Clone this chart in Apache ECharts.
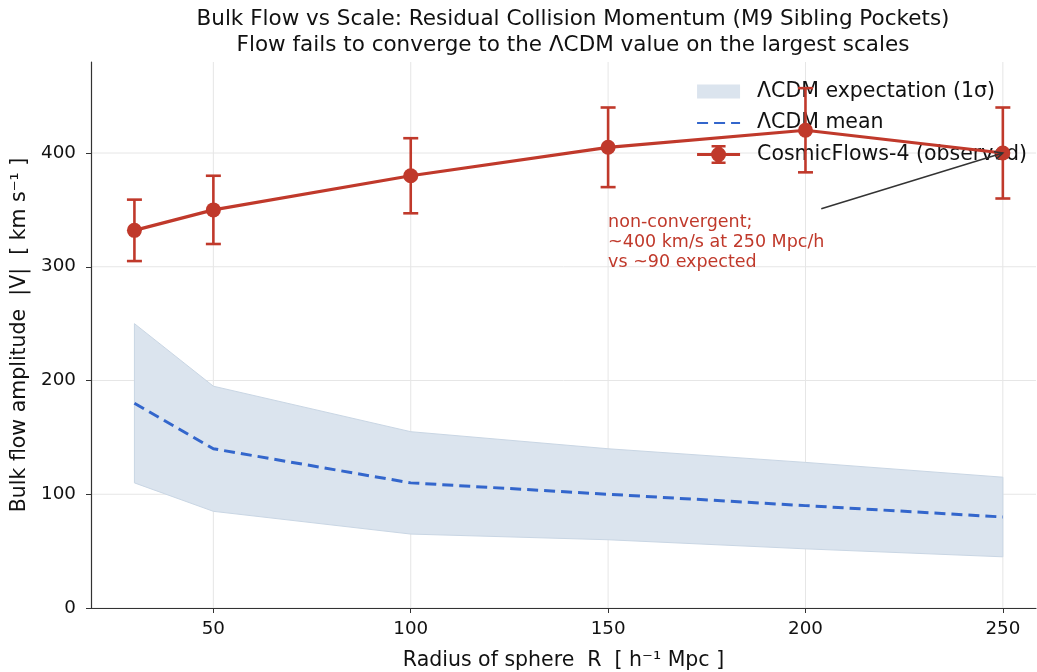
<!DOCTYPE html>
<html>
<head>
<meta charset="utf-8">
<script src="https://cdn.jsdelivr.net/npm/echarts@6/dist/echarts.min.js"></script>
<style>html,body{margin:0;padding:0;background:#fff}#c{width:1037px;height:672px}</style>
</head>
<body>
<div id="c"></div>
<script>
const radii = [30, 50, 100, 150, 200, 250];
const observed = [332, 350, 380, 405, 420, 400];
const observedErr = [27, 30, 33, 35, 37, 40];
const lcdmMean = [180, 140, 110, 100, 90, 80];
const lcdmLow = [110, 85, 65, 60, 52, 45];
const lcdmHigh = [250, 195, 155, 140, 128, 115];
const xTicks = [50, 100, 150, 200, 250];
const yTicks = [0, 100, 200, 300, 400];

const FONT = 'DejaVu Sans';
const RED = '#c0392b';
const BLUE = '#3366cc';

const BAND_ICON = 'path://M0,0 h0.01 v0.01 z M0,2.5 H43 V16.5 H0 Z M42.99,18.99 h0.01 v0.01 z';
const OBS_ICON = 'path://M0,8 H43 V11 H0 Z M20.2,0 H22.8 V19 H20.2 Z M14.5,0 H28.5 V2.5 H14.5 Z M14.5,16.5 H28.5 V19 H14.5 Z M14,9.5 A7.5,7.5 0 1,1 29,9.5 A7.5,7.5 0 1,1 14,9.5 Z';

const chart = echarts.init(document.getElementById('c'), null, {renderer: 'canvas'});

const option = {
  animation: false,
  backgroundColor: '#fff',
  textStyle: {fontFamily: FONT},
  title: {
    text: 'Bulk Flow vs Scale: Residual Collision Momentum (M9 Sibling Pockets)\nFlow fails to converge to the ΛCDM value on the largest scales',
    left: 568, top: 1, textAlign: 'center',
    textStyle: {fontFamily: FONT, fontSize: 21.5, fontWeight: 'normal', color: '#111', lineHeight: 26}
  },
  grid: {left: 91, top: 62, right: 1, bottom: 64, containLabel: false, outerBoundsMode: 'none'},
  legend: {
    orient: 'vertical', right: 5, top: 76, itemWidth: 43, itemHeight: 19, itemGap: 10.5,
    symbolKeepAspect: true,
    textStyle: {fontFamily: FONT, fontSize: 20.5, color: '#111', lineHeight: 20, padding: [0, 0, 0, 12]},
    data: [
      {name: 'ΛCDM expectation (1σ)', icon: BAND_ICON, itemStyle: {borderWidth: 0, borderColor: 'rgba(0,0,0,0)'}},
      {name: 'ΛCDM mean', itemStyle: {color: 'rgba(0,0,0,0)', borderWidth: 0, opacity: 0}},
      {name: 'CosmicFlows-4 (observed)', icon: OBS_ICON}
    ]
  },
  xAxis: {
    type: 'value', min: 19, max: 258.4, interval: 50,
    name: 'Radius of sphere  R  [ h⁻¹ Mpc ]', nameLocation: 'middle', nameGap: 42,
    nameTextStyle: {fontFamily: FONT, fontSize: 20.5, color: '#111'},
    axisLine: {show: true, onZero: false, lineStyle: {color: '#333', width: 1.2}},
    axisTick: {show: true, length: 5, lineStyle: {color: '#333'}, customValues: xTicks},
    axisLabel: {fontFamily: FONT, fontSize: 18.3, color: '#111', margin: 12, customValues: xTicks},
    splitLine: {show: false}
  },
  yAxis: {
    type: 'value', min: 0, max: 480, interval: 100,
    name: 'Bulk flow amplitude  |V|  [ km s⁻¹ ]', nameLocation: 'middle', nameGap: 58,
    nameTextStyle: {fontFamily: FONT, fontSize: 20.5, color: '#111'},
    axisLine: {show: true, lineStyle: {color: '#333', width: 1.2}},
    axisTick: {show: true, length: 5, lineStyle: {color: '#333'}, customValues: yTicks},
    axisLabel: {fontFamily: FONT, fontSize: 18.3, color: '#111', margin: 15, customValues: yTicks},
    splitLine: {show: false}
  },
  series: [
    {
      type: 'custom', name: 'grid', silent: true, z: 0,
      data: [0],
      renderItem: function (params, api) {
        const children = [];
        const y0 = api.coord([0, 0])[1], y1 = api.coord([0, 480])[1];
        const x0 = api.coord([19, 0])[0], x1 = api.coord([258.4, 0])[0];
        xTicks.forEach(function (t) {
          const x = api.coord([t, 0])[0];
          children.push({type: 'line', shape: {x1: x, y1: y0, x2: x, y2: y1}, style: {stroke: '#e6e6e6', lineWidth: 1}});
        });
        yTicks.forEach(function (t) {
          const y = api.coord([0, t])[1];
          children.push({type: 'line', shape: {x1: x0, y1: y, x2: x1, y2: y}, style: {stroke: '#e6e6e6', lineWidth: 1}});
        });
        return {type: 'group', children: children};
      }
    },
    {
      type: 'custom', name: 'ΛCDM expectation (1σ)', z: 1,
      itemStyle: {color: '#dbe4ee'},
      data: radii.map(function (r, i) { return [r, lcdmLow[i], lcdmHigh[i]]; }),
      encode: {x: 0, y: [1, 2]},
      renderItem: function (params, api) {
        if (params.dataIndex !== 0) return null;
        const pts = [];
        for (let i = 0; i < radii.length; i++) pts.push(api.coord([radii[i], lcdmHigh[i]]));
        for (let i = radii.length - 1; i >= 0; i--) pts.push(api.coord([radii[i], lcdmLow[i]]));
        return {type: 'polygon', shape: {points: pts}, style: {fill: '#dbe4ee', stroke: '#c9d6e4', lineWidth: 1}};
      }
    },
    {
      type: 'line', name: 'ΛCDM mean', z: 3,
      data: radii.map(function (r, i) { return [r, lcdmMean[i]]; }),
      symbol: 'none', color: BLUE,
      lineStyle: {color: BLUE, width: 3, type: [11, 6]}
    },
    {
      type: 'custom', name: 'errbars', z: 4,
      data: radii.map(function (r, i) { return [r, observed[i] - observedErr[i], observed[i] + observedErr[i]]; }),
      encode: {x: 0, y: [1, 2]},
      renderItem: function (params, api) {
        const x = api.value(0);
        const lo = api.coord([x, api.value(1)]);
        const hi = api.coord([x, api.value(2)]);
        const cap = 7.5;
        const st = {stroke: RED, lineWidth: 2.6};
        return {type: 'group', children: [
          {type: 'line', shape: {x1: lo[0], y1: lo[1], x2: hi[0], y2: hi[1]}, style: st},
          {type: 'line', shape: {x1: lo[0] - cap, y1: lo[1], x2: lo[0] + cap, y2: lo[1]}, style: st},
          {type: 'line', shape: {x1: hi[0] - cap, y1: hi[1], x2: hi[0] + cap, y2: hi[1]}, style: st}
        ]};
      }
    },
    {
      type: 'line', name: 'CosmicFlows-4 (observed)', z: 5,
      data: radii.map(function (r, i) { return [r, observed[i]]; }),
      symbol: 'circle', symbolSize: 15, color: RED,
      itemStyle: {color: RED},
      lineStyle: {color: RED, width: 3.2}
    },
    {
      type: 'custom', name: 'annotation', z: 6, silent: true,
      data: [0],
      renderItem: function (params, api) {
        const tail = api.coord([204, 351]);
        const head = api.coord([250, 400]);
        const tp = api.coord([150, 300]);
        const ang = Math.atan2(head[1] - tail[1], head[0] - tail[0]);
        const hl = 9, hw = 0.45;
        return {type: 'group', children: [
          {type: 'line', shape: {x1: tail[0], y1: tail[1], x2: head[0], y2: head[1]}, style: {stroke: '#333', lineWidth: 1.5}},
          {type: 'polyline', shape: {points: [
            [head[0] - hl * Math.cos(ang - hw), head[1] - hl * Math.sin(ang - hw)],
            [head[0], head[1]],
            [head[0] - hl * Math.cos(ang + hw), head[1] - hl * Math.sin(ang + hw)]
          ]}, style: {stroke: '#333', lineWidth: 1.5, fill: null}},
          {type: 'text', x: tp[0], y: tp[1] + 6, style: {
            text: 'non-convergent;\n~400 km/s at 250 Mpc/h\nvs ~90 expected',
            fill: RED, font: '17.5px "DejaVu Sans"', lineHeight: 20,
            textAlign: 'left', textVerticalAlign: 'bottom'
          }}
        ]};
      }
    }
  ]
};
chart.setOption(option);
</script>
</body>
</html>
